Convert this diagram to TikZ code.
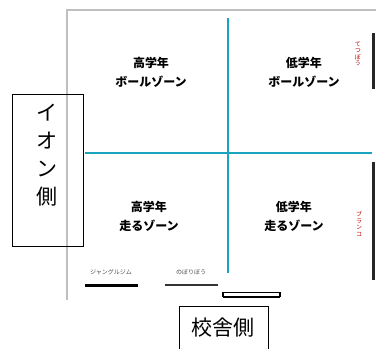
\documentclass[tikz,border=0pt]{standalone}
\usepackage{fontspec}
\newfontfamily\jp{Noto Sans CJK JP}
\begin{document}
\begin{tikzpicture}[x=1pt,y=-1pt,
  frameline/.style={draw=black!25,line width=1.6pt},
  axisline/.style={draw=axiscol,line width=1.3pt},
  sidebar/.style={draw=black!85,line width=3pt},
  zonelabel/.style={font=\jp\bfseries\fontsize{12}{15}\selectfont,align=center,inner sep=0pt},
  sidebox/.style={draw=black,line width=0.8pt,inner sep=0pt},
  bigtext/.style={font=\jp\fontsize{21}{25}\selectfont,inner sep=0pt},
  redtext/.style={font=\jp\fontsize{6}{6.5}\selectfont,text=red!75!black,align=center,inner sep=0pt},
  legtext/.style={font=\jp\fontsize{6}{7}\selectfont,text=black!70,inner sep=0pt},
]
\definecolor{axiscol}{RGB}{25,165,190}
\useasboundingbox (0,0) rectangle (376,349);
% frame
\coordinate (f1) at (67,300);
\coordinate (f2) at (67,10);
\coordinate (f3) at (376,10);
\draw[frameline] (f1) -- (f2) -- (f3);
% axes
\coordinate (vt) at (228,18);
\coordinate (vb) at (228,273);
\coordinate (hl) at (85,153);
\coordinate (hr) at (372,153);
\draw[axisline] (vt) -- (vb);
\draw[axisline] (hl) -- (hr);
% zone labels
\node[zonelabel] (z1) at (151,72) {高学年\\[4pt]ボールゾーン};
\node[zonelabel] (z2) at (304,72) {低学年\\[4pt]ボールゾーン};
\node[zonelabel] (z3) at (149,216) {高学年\\[4pt]走るゾーン};
\node[zonelabel] (z4) at (294,216) {低学年\\[4pt]走るゾーン};
% right bars
\coordinate (b1t) at (373,33);
\coordinate (b1b) at (373,89);
\coordinate (b2t) at (373,162);
\coordinate (b2b) at (373,280);
\draw[sidebar] (b1t) -- (b1b);
\draw[sidebar] (b2t) -- (b2b);
\node[redtext] (r1) at (358,54) {て\\つ\\ぼ\\う};
\node[redtext] (r2) at (359,224) {ブ\\ラ\\ン\\コ};
% left box
\node[sidebox,minimum width=71pt,minimum height=152pt] (ion) at (47.5,170) {};
\node[bigtext,align=center] (iont) at (47.5,155) {イ\\[3pt]オ\\[3pt]ン\\[3pt]側};
% bottom box
\node[sidebox,minimum width=89pt,minimum height=44pt] (kou) at (223.5,328) {};
\node[bigtext] (kout) at (kou.center) {校舎側};
% bracket
\coordinate (k1) at (223,292);
\coordinate (k2) at (223,297);
\coordinate (k3) at (280,297);
\coordinate (k4) at (280,292);
\draw[line width=0.6pt] (k1) -- (k4);
\draw[line width=1.8pt] (k2) -- (k3);
\draw[line width=2pt] (k1) -- (k2);
\draw[line width=2pt] (k4) -- (k3);
% legend
\node[legtext] (l1) at (111,272) {ジャングルジム};
\node[legtext] (l2) at (191,272) {のぼりぼう};
\coordinate (l1a) at (85,285);
\coordinate (l1b) at (138,285);
\coordinate (l2a) at (165,285);
\coordinate (l2b) at (218,285);
\draw[line width=3pt] (l1a) -- (l1b);
\draw[line width=2.4pt,black!80] (l2a) -- (l2b);
\end{tikzpicture}
\end{document}
